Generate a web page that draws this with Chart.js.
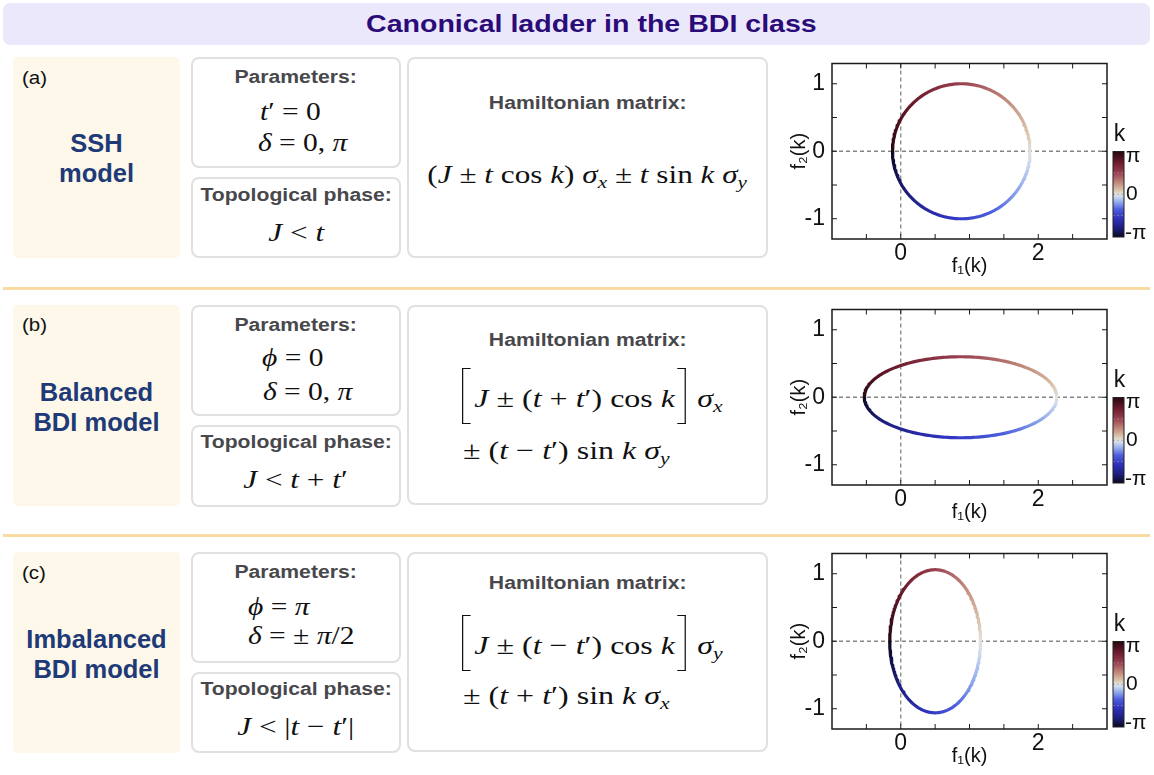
<!DOCTYPE html>
<html>
<head>
<meta charset="utf-8">
<script src="https://cdn.jsdelivr.net/npm/chart.js@4.4.1/dist/chart.umd.min.js"></script>
<style>
  body { margin: 0; background: #fff; font-family: 'Liberation Sans', Arial, sans-serif; }
  #page { position: relative; width: 1154px; height: 775px; overflow: hidden; }
  .abs { position: absolute; }
  .s { display: inline-block; transform-origin: center; }
  .sl { display: inline-block; transform-origin: left center; }
  .titlebar { left: 3px; top: 3px; width: 1147px; height: 42px; background: #ece8fb; border-radius: 7px;
    text-align: center; line-height: 42px; font-weight: bold; font-size: 24px; color: #2a0b78; }
  .titlebar .s { transform: translateX(15px) scaleX(1.19); }
  .sep { left: 3px; width: 1147px; height: 3px; background: #f7dba3; }
  .lab { left: 13px; width: 167px; height: 201px; background: #fdf8ea; border-radius: 5px; }
  .box { box-sizing: border-box; border: 2px solid #e0e0e0; border-radius: 8px; background: #fff; }
  .pbox { left: 191px; width: 210px; }
  .hbox { left: 407px; width: 361px; }
  .tag { left: 22px; font-size: 18px; line-height: 20px; color: #111; }
  .tag .sl { transform: scaleX(1.14); }
  .name { left: 13px; width: 167px; text-align: center; font-weight: bold; font-size: 25.5px; line-height: 30px; color: #203a78; }
  .head { text-align: center; font-weight: bold; font-size: 17.5px; line-height: 22px; color: #48484c; white-space: nowrap; }
  .head .s { transform: scaleX(1.21); }
  .m { font-family: 'Liberation Serif', 'DejaVu Serif', serif; color: #111; white-space: nowrap; line-height: 30px; }
  .m i { font-style: italic; }
  .p { font-size: 25px; }
  .p .sl { transform: scaleX(1.18); }
  .c { font-size: 26px; text-align: center; }
  .c .s { transform: scaleX(1.2); }
  .h { font-size: 26px; }
  .h .sl { transform: scaleX(1.23); }
  .sb { font-size: 0.68em; position: relative; top: 0.3em; }
  .brL, .brR { display: inline-block; box-sizing: border-box; width: 7px; height: 56px; border: 1.6px solid #111; vertical-align: middle; position: relative; top: -5px; }
  .brL { border-right: none; margin-right: 3px; }
  .brR { border-left: none; margin-left: 2px; }
  .gap { display: inline-block; width: 9px; }
  canvas { position: absolute; left: 786px; }
</style>
</head>
<body>
<div id="page">
  <div class="abs titlebar"><span class="s">Canonical ladder in the BDI class</span></div>

  <!-- row (a) -->
  <div class="abs lab" style="top:57px"></div>
  <div class="abs tag" style="top:68px"><span class="sl">(a)</span></div>
  <div class="abs name" style="top:128px">SSH<br>model</div>
  <div class="abs box pbox" style="top:57px;height:111px"></div>
  <div class="abs head" style="left:191px;width:210px;top:66px"><span class="s">Parameters:</span></div>
  <div class="abs m p" style="left:260px;top:97px"><span class="sl"><i>t</i>′ = 0</span></div>
  <div class="abs m p" style="left:258px;top:128px"><span class="sl"><i>δ</i> = 0, <i>π</i></span></div>
  <div class="abs box pbox" style="top:177px;height:81px"></div>
  <div class="abs head" style="left:191px;width:210px;top:184px"><span class="s">Topological phase:</span></div>
  <div class="abs m c" style="left:191px;width:210px;top:218px"><span class="s"><i>J</i> &lt; <i>t</i></span></div>
  <div class="abs box hbox" style="top:57px;height:201px"></div>
  <div class="abs head" style="left:407px;width:361px;top:92px"><span class="s">Hamiltonian matrix:</span></div>
  <div class="abs m c" style="left:407px;width:361px;top:160px"><span class="s">(<i>J</i> ± <i>t</i> cos <i>k</i>) <i>σ</i><span class="sb"><i>x</i></span> ± <i>t</i> sin <i>k</i> <i>σ</i><span class="sb"><i>y</i></span></span></div>

  <div class="abs sep" style="top:287px"></div>

  <!-- row (b) -->
  <div class="abs lab" style="top:305px"></div>
  <div class="abs tag" style="top:315px"><span class="sl">(b)</span></div>
  <div class="abs name" style="top:377px">Balanced<br>BDI model</div>
  <div class="abs box pbox" style="top:305px;height:111px"></div>
  <div class="abs head" style="left:191px;width:210px;top:314px"><span class="s">Parameters:</span></div>
  <div class="abs m p" style="left:262px;top:343px"><span class="sl"><i>ϕ</i> = 0</span></div>
  <div class="abs m p" style="left:263px;top:377px"><span class="sl"><i>δ</i> = 0, <i>π</i></span></div>
  <div class="abs box pbox" style="top:425px;height:82px"></div>
  <div class="abs head" style="left:191px;width:210px;top:431px"><span class="s">Topological phase:</span></div>
  <div class="abs m c" style="left:191px;width:210px;top:465px"><span class="s"><i>J</i> &lt; <i>t</i> + <i>t</i>′</span></div>
  <div class="abs box hbox" style="top:305px;height:200px"></div>
  <div class="abs head" style="left:407px;width:361px;top:329px"><span class="s">Hamiltonian matrix:</span></div>
  <div class="abs m h" style="left:462px;top:373px"><span class="sl"><span class="brL"></span><i>J</i> ± (<i>t</i> + <i>t</i>′) cos <i>k</i><span class="brR"></span><span class="gap"></span><i>σ</i><span class="sb"><i>x</i></span></span></div>
  <div class="abs m h" style="left:463px;top:436px"><span class="sl">± (<i>t</i> − <i>t</i>′) sin <i>k</i> <i>σ</i><span class="sb"><i>y</i></span></span></div>

  <div class="abs sep" style="top:534px"></div>

  <!-- row (c) -->
  <div class="abs lab" style="top:552px"></div>
  <div class="abs tag" style="top:563px"><span class="sl">(c)</span></div>
  <div class="abs name" style="top:624px">Imbalanced<br>BDI model</div>
  <div class="abs box pbox" style="top:552px;height:111px"></div>
  <div class="abs head" style="left:191px;width:210px;top:561px"><span class="s">Parameters:</span></div>
  <div class="abs m p" style="left:248px;top:592px"><span class="sl"><i>ϕ</i> = <i>π</i></span></div>
  <div class="abs m p" style="left:248px;top:621px"><span class="sl"><i>δ</i> = ± <i>π</i>/2</span></div>
  <div class="abs box pbox" style="top:672px;height:81px"></div>
  <div class="abs head" style="left:191px;width:210px;top:678px"><span class="s">Topological phase:</span></div>
  <div class="abs m c" style="left:191px;width:210px;top:712px"><span class="s"><i>J</i> &lt; |<i>t</i> − <i>t</i>′|</span></div>
  <div class="abs box hbox" style="top:552px;height:200px"></div>
  <div class="abs head" style="left:407px;width:361px;top:572px"><span class="s">Hamiltonian matrix:</span></div>
  <div class="abs m h" style="left:462px;top:620px"><span class="sl"><span class="brL"></span><i>J</i> ± (<i>t</i> − <i>t</i>′) cos <i>k</i><span class="brR"></span><span class="gap"></span><i>σ</i><span class="sb"><i>y</i></span></span></div>
  <div class="abs m h" style="left:463px;top:681px"><span class="sl">± (<i>t</i> + <i>t</i>′) sin <i>k</i> <i>σ</i><span class="sb"><i>x</i></span></span></div>

  <canvas id="chartA" width="368" height="234" style="top:45px"></canvas>
  <canvas id="chartB" width="368" height="234" style="top:291px"></canvas>
  <canvas id="chartC" width="368" height="234" style="top:535px"></canvas>
</div>

<script>
// model parameters for each row: f1 = J + a cos k, f2 = b sin k
var canvasIds = ['chartA', 'chartB', 'chartC'];
var hopJ   = [0.88, 0.87, 0.50];   // J
var cosAmp = [1.00, 1.40, 0.66];   // t, t+t', t-t'
var sinAmp = [1.00, 0.60, 1.06];   // t, t-t', t+t'

var xTicks = [-0.5, 0, 0.5, 1, 1.5, 2, 2.5];
var xLabelled = [0, 2];
var yTicks = [-1, -0.5, 0, 0.5, 1];
var yLabelled = [-1, 0, 1];
var kBarLabels = ['π', '0', '-π'];

// diverging colormap for k, stops in units of pi
var kStops  = [-1, -0.8, -0.55, -0.35, -0.2, -0.05, 0, 0.08, 0.25, 0.5, 0.75, 1];
var kColors = ['#0b0820', '#1c1e7a', '#3033c0', '#4d60dc', '#8aa4ec', '#cfdcee',
               '#e4e2de', '#dcc8b0', '#c49080', '#9a4050', '#6a1a2c', '#260810'];

var nSamples = 240;
var TWO_PI = 2 * Math.PI;

function hexRgb(h) {
  return [parseInt(h.substr(1, 2), 16), parseInt(h.substr(3, 2), 16), parseInt(h.substr(5, 2), 16)];
}

function kColor(k) {
  var t = Math.max(-1, Math.min(1, k / Math.PI));
  for (var i = 1; i < kStops.length; i++) {
    if (t <= kStops[i]) {
      var f = (t - kStops[i - 1]) / (kStops[i] - kStops[i - 1]);
      var a = hexRgb(kColors[i - 1]), b = hexRgb(kColors[i]);
      return 'rgb(' + [0, 1, 2].map(function (j) { return Math.round(a[j] + (b[j] - a[j]) * f); }).join(',') + ')';
    }
  }
  return kColors[kColors.length - 1];
}

function curvePoints(i) {
  var pts = [];
  for (var n = 0; n <= nSamples; n++) {
    var k = -Math.PI + TWO_PI * n / nSamples;
    pts.push({ x: hopJ[i] + cosAmp[i] * Math.cos(k), y: sinAmp[i] * Math.sin(k), k: k });
  }
  return pts;
}

// colour the closed curve by k with a conic gradient around its centre,
// stops placed at the pixel angle of every sample
function kGradient(chart, i, pts) {
  var x = chart.scales.x, y = chart.scales.y;
  if (!chart.chartArea || !x || !y) return '#000';
  var cx = x.getPixelForValue(hopJ[i]), cy = y.getPixelForValue(0);
  var g = chart.ctx.createConicGradient(Math.PI, cx, cy);
  g.addColorStop(0, kColor(Math.PI));
  pts.forEach(function (p) {
    if (Math.abs(p.k) >= Math.PI - 1e-9) return;
    var phi = Math.atan2(y.getPixelForValue(p.y) - cy, x.getPixelForValue(p.x) - cx);
    var off = (((phi - Math.PI) % TWO_PI) + TWO_PI) % TWO_PI / TWO_PI;
    g.addColorStop(off, kColor(p.k));
  });
  g.addColorStop(1, kColor(-Math.PI));
  return g;
}

// dashed zero lines, closed frame with inward ticks, and the k colorbar
var framePlugin = {
  id: 'frame',
  beforeDatasetsDraw: function (chart) {
    var ctx = chart.ctx, a = chart.chartArea, x = chart.scales.x, y = chart.scales.y;
    var x0 = x.getPixelForValue(0), y0 = y.getPixelForValue(0);
    ctx.save();
    ctx.strokeStyle = '#858585';
    ctx.lineWidth = 1.3;
    ctx.setLineDash([4, 3]);
    ctx.beginPath();
    ctx.moveTo(a.left, y0); ctx.lineTo(a.right, y0);
    ctx.moveTo(x0, a.top); ctx.lineTo(x0, a.bottom);
    ctx.stroke();
    ctx.restore();
  },
  afterDraw: function (chart) {
    var ctx = chart.ctx, a = chart.chartArea, x = chart.scales.x, y = chart.scales.y;
    ctx.save();
    ctx.strokeStyle = '#1a1a1a';
    ctx.lineWidth = 1.5;
    ctx.strokeRect(a.left, a.top, a.right - a.left, a.bottom - a.top);
    ctx.lineWidth = 1;
    ctx.beginPath();
    x.ticks.forEach(function (t) {
      var px = x.getPixelForValue(t.value);
      ctx.moveTo(px, a.bottom); ctx.lineTo(px, a.bottom - 5);
      ctx.moveTo(px, a.top); ctx.lineTo(px, a.top + 5);
    });
    y.ticks.forEach(function (t) {
      var py = y.getPixelForValue(t.value);
      ctx.moveTo(a.left, py); ctx.lineTo(a.left + 5, py);
      ctx.moveTo(a.right, py); ctx.lineTo(a.right - 5, py);
    });
    ctx.stroke();

    // colorbar
    var cx = a.right + 6, cw = 11, ct = a.top + 88, cb = a.bottom - 2;
    var g = ctx.createLinearGradient(0, cb, 0, ct);
    kStops.forEach(function (s, i) { g.addColorStop((s + 1) / 2, kColors[i]); });
    ctx.fillStyle = g;
    ctx.fillRect(cx, ct, cw, cb - ct);
    ctx.strokeStyle = 'rgba(150,150,150,0.7)';
    ctx.setLineDash([2, 2]);
    ctx.beginPath();
    [0.25, 0.5, 0.75].forEach(function (f) {
      var py = ct + (cb - ct) * f;
      ctx.moveTo(cx, py); ctx.lineTo(cx + cw, py);
    });
    ctx.stroke();
    ctx.setLineDash([]);
    ctx.strokeStyle = '#222';
    ctx.lineWidth = 1;
    ctx.strokeRect(cx, ct, cw, cb - ct);

    ctx.fillStyle = '#111';
    ctx.textBaseline = 'middle';
    ctx.font = '21px "Liberation Sans", Arial, sans-serif';
    ctx.textAlign = 'left';
    ctx.fillText(kBarLabels[0], cx + cw + 2, ct + 5);
    ctx.fillText(kBarLabels[1], cx + cw + 2, (ct + cb) / 2);
    ctx.fillText(kBarLabels[2], cx + cw + 1, cb - 4);
    ctx.font = '23px "Liberation Sans", Arial, sans-serif';
    ctx.textAlign = 'center';
    ctx.fillText('k', cx + cw / 2 + 1, a.top + 71);
    ctx.restore();
  }
};

var tickFont = { family: '"Liberation Sans", Arial, sans-serif', size: 23, lineHeight: 1 };
var titleFont = { family: '"Liberation Sans", Arial, sans-serif', size: 20, lineHeight: 1 };

canvasIds.forEach(function (id, i) {
  var pts = curvePoints(i);
  new Chart(document.getElementById(id), {
    type: 'scatter',
    data: {
      datasets: [{
        data: pts,
        showLine: true,
        pointRadius: 0,
        borderWidth: 3.2,
        borderJoinStyle: 'round',
        borderColor: function (c) { return kGradient(c.chart, i, pts); }
      }]
    },
    options: {
      responsive: false,
      animation: false,
      events: [],
      layout: { padding: { top: 14, right: 47, left: 0, bottom: 0 } },
      plugins: { legend: { display: false }, tooltip: { enabled: false } },
      scales: {
        x: {
          type: 'linear', min: -1, max: 3,
          grid: { display: false, drawTicks: false }, border: { display: false },
          afterBuildTicks: function (s) { s.ticks = xTicks.map(function (v) { return { value: v }; }); },
          afterFit: function (s) { s.height = 40; },
          ticks: {
            font: tickFont, color: '#111', padding: 3, maxRotation: 0, autoSkip: false,
            callback: function (v) { return xLabelled.indexOf(v) >= 0 ? String(v) : ''; }
          },
          title: { display: true, text: 'f₁(k)', font: titleFont, color: '#111', padding: { top: 0, bottom: 3 } }
        },
        y: {
          type: 'linear', min: -1.3, max: 1.3,
          grid: { display: false, drawTicks: false }, border: { display: false },
          afterBuildTicks: function (s) { s.ticks = yTicks.map(function (v) { return { value: v }; }); },
          afterFit: function (s) { s.width = 46; },
          ticks: {
            font: tickFont, color: '#111', padding: 7, autoSkip: false,
            callback: function (v) { return yLabelled.indexOf(v) >= 0 ? String(v) : ''; }
          },
          title: { display: true, text: 'f₂(k)', font: titleFont, color: '#111', padding: { top: 3, bottom: 0 } }
        }
      }
    },
    plugins: [framePlugin]
  });
});
</script>
</body>
</html>
